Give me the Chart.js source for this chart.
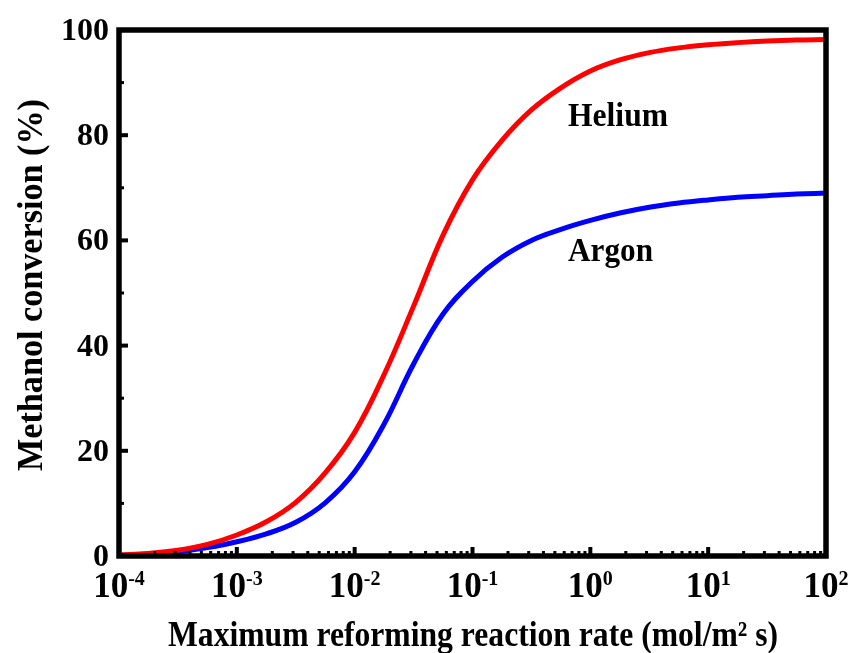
<!DOCTYPE html>
<html>
<head>
<meta charset="utf-8">
<script src="https://cdn.jsdelivr.net/npm/chart.js@4"></script>
<style>
  html, body { margin: 0; padding: 0; background: #fff; }
  #wrap { width: 848px; height: 653px; }
</style>
</head>
<body>
<div id="wrap"><canvas id="conv-chart" width="848" height="653"></canvas></div>
<script>
// exponents of the reaction rate (mol/m2 s), quarter decades from 1e-4 to 1e2
var rateExp = [-4, -3.75, -3.5, -3.25, -3, -2.75, -2.5, -2.25, -2, -1.75, -1.5, -1.25, -1,
               -0.75, -0.5, -0.25, 0, 0.25, 0.5, 0.75, 1, 1.25, 1.5, 1.75, 2];
// methanol conversion (%)
var helium = [0.2, 0.5, 1.1, 2.2, 4.0, 6.5, 10.2, 15.8, 23.5, 34.5, 47.5, 61.0, 71.5,
              79.0, 84.8, 89.0, 92.2, 94.3, 95.7, 96.6, 97.2, 97.6, 97.9, 98.1, 98.2];
var argon  = [0.1, 0.4, 0.8, 1.6, 2.7, 4.2, 6.4, 10.1, 16.0, 25.1, 36.5, 46.0, 52.2,
              56.8, 60.0, 62.1, 63.8, 65.2, 66.3, 67.1, 67.7, 68.2, 68.5, 68.8, 69.0];
var xDecades = [-4, -3, -2, -1, 0, 1, 2];
var yTicks = [0, 20, 40, 60, 80, 100];
var yMinor = [10, 30, 50, 70, 90];

var serif = '"Liberation Serif", "Times New Roman", serif';

function pts(vals){
    var out = [];
    for (var i = 0; i < rateExp.length; i++) {
        out.push({x: Math.pow(10, rateExp[i]), y: vals[i]});
    }
    return out;
}

// draw text squeezed/stretched to a given width
function fitText(ctx, txt, x, y, size, width, align){
    ctx.font = 'bold ' + size + 'px ' + serif;
    var w = ctx.measureText(txt).width;
    var sx = width / w;
    ctx.save();
    ctx.translate(x, y);
    ctx.scale(sx, 1);
    ctx.textAlign = align || 'left';
    ctx.textBaseline = 'alphabetic';
    ctx.fillText(txt, 0, 0);
    ctx.restore();
}

// frame, inward ticks and all labels
var decor = {
    id: 'decor',
    afterDatasetsDraw: function(chart){
        var ctx = chart.ctx;
        var a = chart.chartArea;
        var xs = chart.scales.x, ys = chart.scales.y;
        ctx.save();
        ctx.fillStyle = '#000';
        ctx.strokeStyle = '#000';

        // ticks along the bottom
        for (var d = -4; d < 2; d++) {
            for (var m = 2; m < 10; m++) {
                var px = xs.getPixelForValue(m * Math.pow(10, d));
                ctx.fillRect(px - 1.5, a.bottom - 5, 3, 5);
            }
        }
        xDecades.forEach(function(e){
            var px = xs.getPixelForValue(Math.pow(10, e));
            ctx.fillRect(px - 2, a.bottom - 9, 4, 9);
        });
        // ticks along the left side
        yTicks.forEach(function(v){
            var py = ys.getPixelForValue(v);
            ctx.fillRect(a.left, py - 2, 9, 4);
        });
        yMinor.forEach(function(v){
            var py = ys.getPixelForValue(v);
            ctx.fillRect(a.left, py - 1.5, 5, 3);
        });

        // frame
        ctx.lineWidth = 5.5;
        ctx.strokeRect(a.left, a.top, a.right - a.left, a.bottom - a.top);

        // y tick labels
        ctx.textAlign = 'right';
        ctx.textBaseline = 'alphabetic';
        ctx.font = 'bold 32px ' + serif;
        yTicks.forEach(function(v){
            var py = ys.getPixelForValue(v);
            ctx.fillText(String(v), a.left - 10, py + 10);
        });

        // x tick labels: 10 with a raised exponent
        xDecades.forEach(function(e){
            var px = xs.getPixelForValue(Math.pow(10, e));
            var base = '10', sup = (e < 0 ? '-' : '') + Math.abs(e);
            ctx.font = 'bold 35px ' + serif;
            var wb = ctx.measureText(base).width;
            ctx.font = 'bold 20px ' + serif;
            var ws = ctx.measureText(sup).width;
            var x0 = px - (wb + ws) / 2;
            ctx.textAlign = 'left';
            ctx.font = 'bold 35px ' + serif;
            ctx.fillText(base, x0, 597);
            ctx.font = 'bold 20px ' + serif;
            ctx.fillText(sup, x0 + wb, 585);
        });

        // series names
        fitText(ctx, 'Helium', 568, 126, 34, 100);
        fitText(ctx, 'Argon', 568, 261, 34, 85);

        // axis titles
        fitText(ctx, 'Maximum reforming reaction rate (mol/m\u00B2 s)', 473, 646, 36, 610, 'center');
        ctx.save();
        ctx.translate(42, 285);
        ctx.rotate(-Math.PI / 2);
        fitText(ctx, 'Methanol conversion (%)', 0, 0, 36, 372, 'center');
        ctx.restore();

        ctx.restore();
    }
};

window.onload = function chart(){
    var ctx = document.getElementById('conv-chart');
    var myChart = new Chart(ctx, {
        type: 'line',
        data: {
            datasets: [{
                label: 'Helium',
                data: pts(helium),
                borderColor: '#ff0000',
                borderWidth: 5,
                pointRadius: 0,
                tension: 0.4,
                fill: false
            }, {
                label: 'Argon',
                data: pts(argon),
                borderColor: '#0000ff',
                borderWidth: 5,
                pointRadius: 0,
                tension: 0.4,
                fill: false
            }]
        },
        options: {
            responsive: false,
            animation: false,
            events: [],
            layout: { padding: { left: 119, top: 30, right: 22, bottom: 97 } },
            plugins: { legend: { display: false }, tooltip: { enabled: false } },
            scales: {
                x: { type: 'logarithmic', min: 1e-4, max: 100, display: false },
                y: { type: 'linear', min: 0, max: 100, display: false }
            }
        },
        plugins: [decor]
    });
};
</script>
</body>
</html>
